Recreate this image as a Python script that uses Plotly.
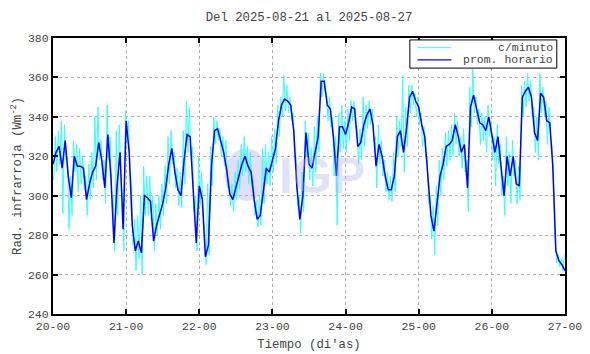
import pandas as pd
import plotly.graph_objects as go

start = "2025-08-20 00:00"
title_text = "Del 2025-08-21 al 2025-08-27"
y_ticks = [240, 260, 280, 300, 320, 340, 360, 380]
x_tick_labels = ["20-00", "21-00", "22-00", "23-00", "24-00", "25-00", "26-00", "27-00"]
legend_names = ["c/minuto", "prom. horario"]

# hourly mean (prom. horario), h0 .. h168
prom_horario = [
    316, 322, 325, 314, 328, 310, 299, 320, 315, 315, 314, 298, 306, 312, 315, 327,
    318, 304, 331, 310, 276, 305, 322, 283, 338, 322, 285, 272, 277, 271, 300, 299,
    297, 277, 285, 290, 296, 304, 316, 324, 312, 303, 300, 318, 331, 330, 300, 276,
    305, 298, 269, 275, 315, 333, 334, 328, 322, 313, 301, 298, 304, 310, 316, 320,
    315, 312, 298, 288, 290, 302, 314, 312, 318, 324, 338, 346, 349, 348, 346, 333,
    305, 288, 300, 332, 316, 314, 322, 330, 358, 358, 346, 344, 330, 310, 335, 335,
    331, 337, 345, 344, 325, 327, 336, 341, 344, 336, 315, 326, 320, 310, 303, 303,
    310, 330, 333, 322, 334, 350, 353, 348, 345, 336, 330, 310, 290, 282, 297, 310,
    316, 325, 326, 328, 336, 330, 322, 326, 304, 345, 351, 344, 337, 336, 333, 340,
    330, 322, 330, 315, 300, 320, 310, 320, 306, 305, 350, 353, 355, 350, 332, 328,
    352, 350, 338, 337, 315, 272, 267, 265, 262,
]

# per-minute data (c/minuto): local highs and lows read for each hour
minuto_alto = [
    325, 330, 333, 338, 336, 320, 310, 328, 326, 324, 320, 310, 316, 322, 340, 345,
    328, 318, 346, 330, 300, 333, 336, 300, 343, 338, 306, 288, 290, 300, 315, 310,
    310, 300, 296, 300, 306, 315, 330, 333, 322, 314, 312, 333, 348, 345, 325, 300,
    320, 312, 282, 306, 325, 340, 338, 334, 330, 328, 308, 306, 312, 318, 326, 330,
    325, 322, 308, 298, 300, 324, 326, 322, 330, 334, 346, 350, 361, 356, 350, 342,
    320, 300, 312, 338, 332, 324, 335, 340, 362, 362, 352, 350, 340, 330, 342, 346,
    338, 344, 348, 348, 335, 334, 350, 346, 348, 344, 330, 336, 328, 318, 312, 310,
    322, 340, 338, 361, 345, 356, 356, 352, 350, 342, 335, 320, 300, 295, 305, 318,
    324, 332, 333, 336, 342, 338, 330, 334, 318, 355, 364, 350, 344, 342, 340, 346,
    338, 330, 336, 326, 310, 330, 322, 328, 318, 315, 356, 358, 362, 358, 345, 340,
    362, 355, 348, 345, 325, 278, 270, 268, 270,
]
minuto_bajo = [
    308, 312, 316, 291, 318, 283, 290, 312, 302, 306, 303, 290, 298, 304, 308, 318,
    308, 296, 318, 300, 272, 290, 310, 272, 328, 312, 275, 262, 268, 260, 290, 290,
    288, 272, 280, 283, 290, 296, 306, 316, 304, 295, 294, 306, 322, 320, 292, 272,
    295, 290, 265, 270, 305, 326, 328, 320, 315, 304, 295, 292, 298, 303, 310, 312,
    306, 304, 290, 284, 285, 296, 306, 305, 312, 316, 330, 340, 343, 342, 338, 320,
    295, 281, 292, 320, 308, 305, 312, 322, 350, 352, 338, 335, 310, 285, 322, 324,
    322, 328, 338, 335, 316, 318, 325, 334, 336, 328, 304, 316, 310, 302, 298, 297,
    302, 320, 325, 312, 325, 342, 346, 340, 336, 325, 320, 296, 278, 270, 285, 300,
    308, 315, 318, 320, 326, 320, 314, 312, 292, 335, 342, 336, 326, 328, 322, 330,
    318, 305, 316, 300, 290, 305, 296, 310, 296, 298, 340, 345, 348, 340, 322, 318,
    342, 340, 326, 330, 305, 266, 264, 262, 266,
]

t0 = pd.Timestamp(start)
hours = list(range(len(prom_horario)))
t_hour = [t0 + pd.Timedelta(hours=h) for h in hours]

t_min, v_min = [], []
for h, hi, lo in zip(hours, minuto_alto, minuto_bajo):
    if h > 0:
        t_min.append(t0 + pd.Timedelta(minutes=60 * h - 15))
        v_min.append(hi)
    if h < hours[-1]:
        t_min.append(t0 + pd.Timedelta(minutes=60 * h + 15))
        v_min.append(lo)

FONT = "Liberation Mono, Courier New, monospace"
TXT = "#444"
CYAN = "#33FFFF"
BLUE = "#0000FF"

fig = go.Figure()
fig.add_trace(go.Scatter(x=t_min, y=v_min, mode="lines", name=legend_names[0],
                         line=dict(color=CYAN, width=1), showlegend=False))
fig.add_trace(go.Scatter(x=t_hour, y=prom_horario, mode="lines", name=legend_names[1],
                         line=dict(color=BLUE, width=1.5), showlegend=False))

# faint IGP watermark
fig.add_shape(type="circle", xref="paper", yref="paper", layer="below",
              x0=0.335, x1=0.42, y0=0.41, y1=0.60,
              fillcolor="rgba(215,215,245,0.8)", line=dict(width=0))
fig.add_annotation(x=0.525, y=0.50, xref="paper", yref="paper", text="<b>IGP</b>",
                   showarrow=False,
                   font=dict(family="Liberation Sans, Arial, sans-serif", size=50,
                             color="rgba(170,170,235,0.35)"))

# legend box drawn by hand (compact, text right-aligned)
fig.add_shape(type="rect", xref="paper", yref="paper", x0=0.697, x1=0.984,
              y0=0.891, y1=0.993, line=dict(color="black", width=1),
              fillcolor="white", layer="above")
for yy, col, name in [(0.965, CYAN, legend_names[0]), (0.921, BLUE, legend_names[1])]:
    fig.add_shape(type="line", xref="paper", yref="paper", x0=0.712, x1=0.778,
                  y0=yy, y1=yy, line=dict(color=col, width=1.3 if col == BLUE else 1))
    fig.add_annotation(x=0.981, y=yy, xref="paper", yref="paper", text=name,
                       showarrow=False, xanchor="right", yanchor="middle",
                       font=dict(family=FONT, size=11.5, color=TXT))

tickvals = [t0 + pd.Timedelta(days=d) for d in range(len(x_tick_labels))]
fig.update_layout(
    width=590, height=354,
    margin=dict(l=53, r=25, t=38, b=40, autoexpand=False),
    paper_bgcolor="white", plot_bgcolor="white",
    font=dict(family=FONT, size=11.5, color=TXT),
    title=dict(text=title_text, x=0.5237, xanchor="center", y=0.952, yanchor="middle",
               font=dict(family=FONT, size=12.3, color=TXT)),
    showlegend=False,
)
fig.update_xaxes(
    range=[tickvals[0], tickvals[-1]], tickvals=tickvals, ticktext=x_tick_labels,
    showline=True, linecolor="black", linewidth=2, mirror="ticks",
    ticks="inside", ticklen=5, tickcolor="black", tickwidth=1.5,
    showgrid=True, gridcolor="#b0b0b0", griddash="dot", gridwidth=1,
    automargin=False,
    title=dict(text="Tiempo (di'as)", standoff=8, font=dict(family=FONT, size=12.3, color=TXT)),
    zeroline=False,
)
fig.update_yaxes(
    range=[240, 380], tickvals=y_ticks,
    showline=True, linecolor="black", linewidth=2, mirror="ticks",
    ticks="inside", ticklen=5, tickcolor="black", tickwidth=1.5,
    showgrid=True, gridcolor="#b0b0b0", griddash="dot", gridwidth=1,
    automargin=False,
    title=dict(text="Rad. infrarroja (Wm<sup>-2</sup>)", standoff=4,
               font=dict(family=FONT, size=12.3, color=TXT)),
    zeroline=False,
)

fig.write_html("out.html", config={"displayModeBar": False},
               post_script="document.body.style.margin='0';document.body.style.overflow='hidden';")
